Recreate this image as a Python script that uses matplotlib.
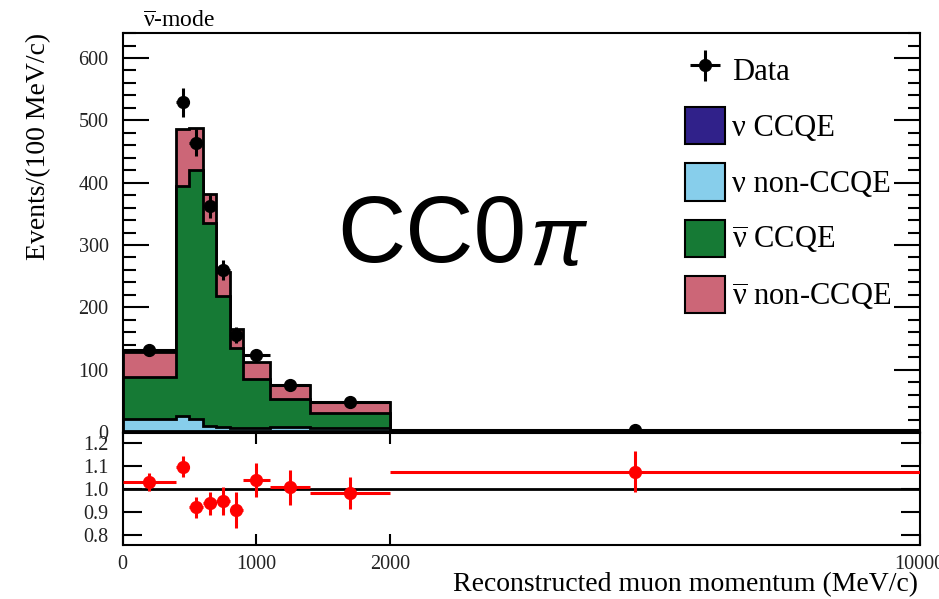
import numpy as np
import matplotlib.pyplot as plt
from matplotlib.patches import Patch

plt.rcParams['font.family'] = ['Liberation Serif', 'DejaVu Serif']
plt.rcParams['mathtext.fontset'] = 'custom'
plt.rcParams['mathtext.rm'] = 'Liberation Serif'
plt.rcParams['mathtext.it'] = 'Liberation Serif:italic'

# bin edges (MeV/c)
edges = [0, 400, 500, 600, 700, 800, 900, 1100, 1400, 2000, 10000]

# MC components, events / (100 MeV/c)
nu_ccqe = [2, 2, 1.5, 1, 1, 1, 1, 1, 1, 0.2]
nu_nonccqe = [19, 23, 19.5, 9, 7, 5, 5, 7, 5, 0.4]
nubar_ccqe = [67, 369, 399, 326, 210, 129, 79.5, 45, 24, 0.6]
nubar_nonccqe = [40, 92, 67, 46, 39, 31, 26.5, 22, 17.5, 0.4]

# data
data_x = [200, 450, 550, 650, 750, 850, 1000, 1250, 1700, 5700]
data_y = [131, 529, 464, 362, 260, 155, 123, 76, 48, 3]
data_yerr = [6, 23, 22, 19, 16, 13, 8, 5, 3, 0.6]

# data / MC
ratio = [1.03, 1.097, 0.92, 0.938, 0.948, 0.909, 1.039, 1.007, 0.984, 1.075]
ratio_err = [0.04, 0.046, 0.045, 0.05, 0.06, 0.077, 0.074, 0.075, 0.07, 0.09]

labels = ['ν CCQE', 'ν non-CCQE',
          r'$\overline{\mathrm{\nu}}$ CCQE', r'$\overline{\mathrm{\nu}}$ non-CCQE']
colors = ['#30218a', '#87ceeb', '#167a35', '#cc6677']

# axis is compressed above 2000 MeV/c
k = (530 / 8000) / (268 / 2000)


def fwd(x):
    x = np.asarray(x, float)
    return np.where(x <= 2000, x, 2000 + (x - 2000) * k)


def inv(y):
    y = np.asarray(y, float)
    return np.where(y <= 2000, y, 2000 + (y - 2000) / k)


fig = plt.figure(figsize=(9.39, 5.99), dpi=100)
ax1 = fig.add_axes([0.1305, 0.2788, 0.849, 0.666])
ax2 = fig.add_axes([0.1305, 0.0902, 0.849, 0.1870], sharex=ax1)
ax1.set_xscale('function', functions=(fwd, inv))

lo = np.array(edges[:-1])
hi = np.array(edges[1:])
dx = np.array(data_x)

# stacked histogram, drawn top layer first
comps = [nu_ccqe, nu_nonccqe, nubar_ccqe, nubar_nonccqe]
cum = np.cumsum(np.array(comps), axis=0)
for i in range(3, -1, -1):
    ax1.stairs(cum[i], edges, baseline=0, fill=True, facecolor=colors[i],
               edgecolor='black', linewidth=2, zorder=2)

eb = ax1.errorbar(data_x, data_y, yerr=data_yerr, xerr=[dx - lo, hi - dx], fmt='o',
                  color='black', ms=8.5, elinewidth=2.2, capsize=0, zorder=5)

ax1.set_xlim(0, 10000)
ax1.set_ylim(0, 640)
ax1.set_yticks(range(0, 700, 100))
ax1.set_yticks(range(0, 641, 20), minor=True)
ax1.set_axisbelow(True)
ax1.tick_params(axis='y', which='major', direction='in', length=19, width=1.5,
                right=True, labelsize=14.5, labelcolor='#222222', pad=10)
ax1.tick_params(axis='y', which='minor', direction='in', length=9, width=1.5, right=True)
ax1.tick_params(axis='x', which='both', direction='in', length=8, width=1.2,
                labelbottom=False)
ax1.set_ylabel('Events/(100 MeV/c)', fontsize=20, loc='top', labelpad=20)
for s in ax1.spines.values():
    s.set_linewidth(1.5)

handles = [eb] + [Patch(facecolor=c, edgecolor='black', linewidth=1.5) for c in colors]
ax1.legend(handles, ['Data'] + labels, loc='upper left', frameon=False,
           bbox_to_anchor=(685 / 939, 1 - 51 / 599), bbox_transform=fig.transFigure,
           fontsize=22, handlelength=1.3, handleheight=1.5, labelspacing=0.62,
           handletextpad=0.25, borderpad=0, borderaxespad=0)

# ratio panel
ax2.axhline(1.0, color='black', linewidth=2, zorder=1)
ax2.errorbar(data_x, ratio, yerr=ratio_err, xerr=[dx - lo, hi - dx], fmt='o',
             color='red', ms=8.5, elinewidth=2.2, capsize=0, zorder=3)
ax2.set_ylim(0.756, 1.244)
ax2.set_yticks([0.8, 0.9, 1.0, 1.1, 1.2])
ax2.set_yticklabels(['0.8', '0.9', '1.0', '1.1', '1.2'])
ax2.set_xticks([0, 1000, 2000, 10000])
ax2.set_xticklabels(['0', '1000', '2000', '10000'])
ax2.tick_params(axis='y', direction='in', length=14, width=1.5, right=True,
                labelsize=14.5, labelcolor='#222222', pad=10)
ax2.tick_params(axis='x', direction='in', length=8, width=1.5, top=True,
                labelsize=14.5, labelcolor='#222222', pad=7)
ax2.minorticks_off()
ax2.set_xlabel('Reconstructed muon momentum (MeV/c)', fontsize=20, loc='right')
ax2.xaxis.set_label_coords(0.998, -0.24)
for s in ax2.spines.values():
    s.set_linewidth(1.5)

fig.text(143 / 939, 1 - 27 / 599, r'$\overline{\mathrm{\nu}}$-mode', fontsize=17, va='baseline')
cc = fig.text(337 / 939, 1 - 262 / 599, 'CC0', fontsize=68, va='baseline',
              family='Liberation Sans')
fig.add_artist(plt.Annotation('π', xy=(1, 0), xycoords=cc, xytext=(2, 0),
                              textcoords='offset points', va='bottom', fontsize=60,
                              family='Liberation Sans', style='italic'))

fig.savefig('out.png', dpi=100)
